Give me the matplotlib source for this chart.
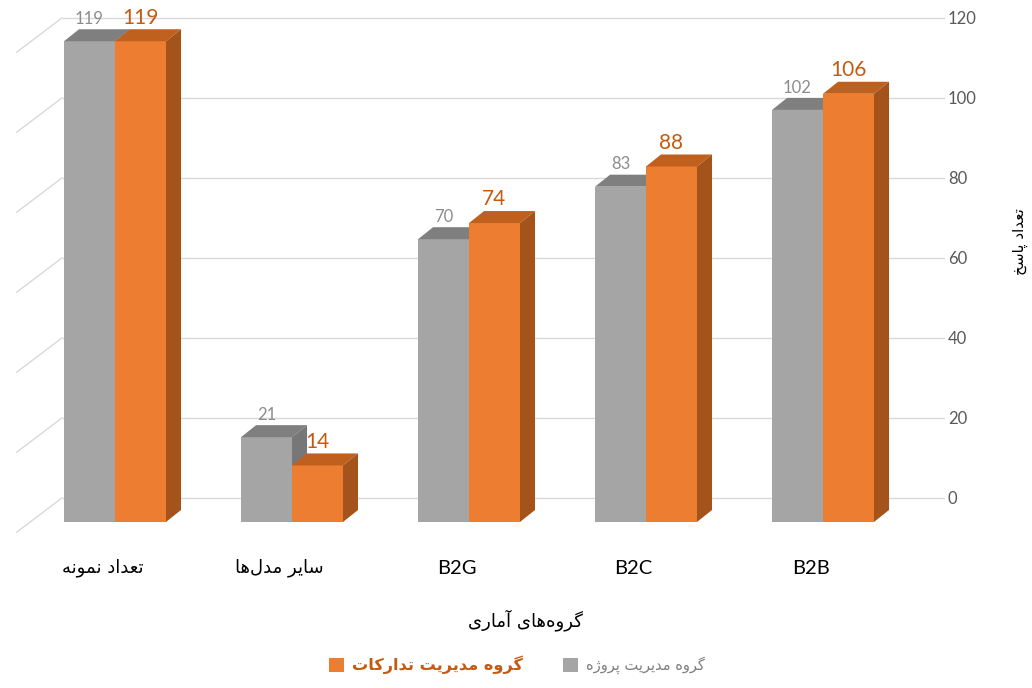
import matplotlib
matplotlib.use("Agg")
import matplotlib.pyplot as plt
from matplotlib.patches import Polygon, Patch

# --- data ---
categories = ["تعداد نمونه", "سایر مدل‌ها", "B2G", "B2C", "B2B"]
project_vals = [119, 21, 70, 83, 102]      # گروه مدیریت پروژه (gray)
procure_vals = [119, 14, 74, 88, 106]      # گروه مدیریت تدارکات (orange)
yticks = [0, 20, 40, 60, 80, 100, 120]
series_names = ["گروه مدیریت پروژه", "گروه مدیریت تدارکات"]
x_title = "گروه‌های آماری"
y_title = "تعداد پاسخ"

# --- tiny persian shaper (matplotlib has no arabic shaping / rtl) ---
FORMS = {
    'ا': ('\uFE8D', '\uFE8E', None, None),
    'آ': ('\uFE81', '\uFE82', None, None),
    'ت': ('\uFE95', '\uFE96', '\uFE97', '\uFE98'),
    'خ': ('\uFEA5', '\uFEA6', '\uFEA7', '\uFEA8'),
    'د': ('\uFEA9', '\uFEAA', None, None),
    'ر': ('\uFEAD', '\uFEAE', None, None),
    'ژ': ('\uFB8A', '\uFB8B', None, None),
    'س': ('\uFEB1', '\uFEB2', '\uFEB3', '\uFEB4'),
    'ع': ('\uFEC9', '\uFECA', '\uFECB', '\uFECC'),
    'ل': ('\uFEDD', '\uFEDE', '\uFEDF', '\uFEE0'),
    'م': ('\uFEE1', '\uFEE2', '\uFEE3', '\uFEE4'),
    'ن': ('\uFEE5', '\uFEE6', '\uFEE7', '\uFEE8'),
    'ه': ('\uFEE9', '\uFEEA', '\uFEEB', '\uFEEC'),
    'و': ('\uFEED', '\uFEEE', None, None),
    'ی': ('\uFBFC', '\uFBFD', '\uFBFE', '\uFBFF'),
    'پ': ('\uFB56', '\uFB57', '\uFB58', '\uFB59'),
    'ک': ('\uFB8E', '\uFB8F', '\uFB90', '\uFB91'),
    'گ': ('\uFB92', '\uFB93', '\uFB94', '\uFB95'),
}


def dual(c):
    return c in FORMS and FORMS[c][2] is not None


def fa(s):
    if not any(c in FORMS for c in s):
        return s
    out = []
    for k, c in enumerate(s):
        if c == '\u200c':
            continue
        if c not in FORMS:
            out.append(c)
            continue
        prev = s[k - 1] if k > 0 else ''
        nxt = s[k + 1] if k + 1 < len(s) else ''
        jp = dual(prev)
        jn = dual(c) and nxt in FORMS
        iso, fin, ini, med = FORMS[c]
        if jp and jn:
            out.append(med)
        elif jp:
            out.append(fin)
        elif jn:
            out.append(ini)
        else:
            out.append(iso)
    return ''.join(reversed(out))


FA = 'DejaVu Sans'
NUM = 'Lato'

gray = dict(front='#A5A5A5', top='#7F7F7F', side='#777777', text='#8C8C8C')
orange = dict(front='#ED7D31', top='#C0601F', side='#A4541A', text='#C55A11')

fig = plt.figure(figsize=(10.32, 6.88), dpi=100)
ax = fig.add_axes([0, 0, 945 / 1032, 1])
ax.set_xlim(-115 / 177, (945 - 115) / 177)
ax.set_ylim(-47.5, 124.5)

W = 0.288          # bar width (category units)
DX, DY = 0.085, 3  # depth of the bar tops
FRONT = -6         # front plane is lower than the back wall
PERSP = 1.01
XL = -0.30         # left edge of back wall

# back wall gridlines + left side wall
ax.hlines(yticks, XL, ax.get_xlim()[1], color='#D9D9D9', lw=1, zorder=0)
for v in yticks:
    ax.plot([XL, XL - 0.254], [v, v - 8.5], color='#D9D9D9', lw=1, zorder=0)


def bar3d(x0, v, c):
    x1 = x0 + W
    yb = FRONT
    yt = v * PERSP + FRONT
    ax.add_patch(Polygon([(x0, yb), (x1, yb), (x1, yt), (x0, yt)],
                         closed=True, fc=c['front'], ec='none', zorder=2))
    ax.add_patch(Polygon([(x0, yt), (x1, yt), (x1 + DX, yt + DY), (x0 + DX, yt + DY)],
                         closed=True, fc=c['top'], ec='none', zorder=2))
    ax.add_patch(Polygon([(x1, yb), (x1 + DX, yb + DY), (x1 + DX, yt + DY), (x1, yt)],
                         closed=True, fc=c['side'], ec='none', zorder=2))
    return yt + DY


for i in range(len(categories)):
    gt = bar3d(i - W, project_vals[i], gray)
    ax.text(i - W / 2, gt + 0.6, str(project_vals[i]), ha='center', va='bottom',
            color=gray['text'], fontsize=12, family=NUM, zorder=3)
    ot = bar3d(i, procure_vals[i], orange)
    ax.text(i + W / 2, ot + 0.4, str(procure_vals[i]), ha='center', va='bottom',
            color=orange['text'], fontsize=15, family=NUM, zorder=3)
    fam = FA if categories[i] != fa(categories[i]) else NUM
    ax.text(i - 0.07, -17.5, fa(categories[i]), ha='center', va='center',
            color='#000000', fontsize=13 if fam == FA else 14.5, family=fam)

# right value axis
ax.yaxis.tick_right()
ax.set_yticks(yticks)
ax.set_yticklabels([str(v) for v in yticks], family=NUM, fontsize=12, color='#595959')
ax.tick_params(axis='y', length=0, pad=2)
ax.set_xticks([])
for s in ax.spines.values():
    s.set_visible(False)

fig.text(1020 / 1032, 1 - 242 / 688, fa(y_title), rotation=90, ha='center', va='center',
         family=FA, fontsize=11, color='#000000')
fig.text(525 / 1032, 1 - 620 / 688, fa(x_title), ha='center', va='center',
         family=FA, fontsize=13, color='#000000')

handles = [Patch(fc=orange['front']), Patch(fc=gray['front'])]
leg = fig.legend(handles, [fa(series_names[1]), fa(series_names[0])], ncol=2,
                 loc='center', bbox_to_anchor=(517 / 1032, 1 - 665 / 688), frameon=False,
                 prop={'family': FA, 'size': 11.2}, handlelength=0.95, handleheight=0.95,
                 handletextpad=0.5, columnspacing=2.6)
t0, t1 = leg.get_texts()
t0.set_color(orange['text'])
t0.set_fontweight('bold')
t0.set_fontsize(11.6)
t1.set_color('#7F7F7F')
t1.set_fontsize(10.5)

fig.savefig('out.png', dpi=100)
